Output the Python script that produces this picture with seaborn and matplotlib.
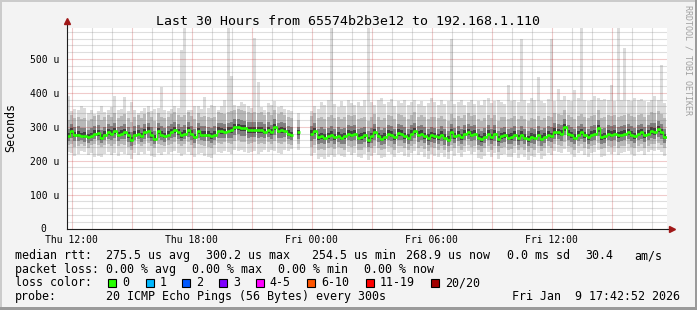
import numpy as np
import pandas as pd
import matplotlib
matplotlib.use("Agg")
import matplotlib.pyplot as plt
import matplotlib.dates as mdates
from matplotlib.patches import Rectangle
from matplotlib.ticker import FixedLocator, FuncFormatter
import seaborn as sns

nan = np.nan

# ---------------- data (microseconds, one value per 10-minute step) ----------------
median_us = [
    272, 287, 277, 277, 274, 274, 270, 272, 280, 282,
    268, 277, 283, 280, 287, 277, 280, 283, 275, 260,
    277, 280, 273, 285, 288, 275, 265, 286, 277, 273,
    277, 285, 290, 283, 275, 280, 290, 280, 270, 287,
    277, 277, 277, 272, 277, 288, 288, 285, 288, 290,
    298, 300, 295, 295, 290, 290, 290, 290, 290, 285,
    290, 283, 300, 288, 290, 288, 280, 277, nan, 283,
    nan, nan, nan, 280, 288, 270, 272, 268, 272, 277,
    270, 273, 268, 272, 280, 277, 280, 268, 270, 275,
    260, 272, 283, 273, 265, 270, 280, 277, 270, 282,
    280, 273, 268, 280, 287, 277, 280, 273, 268, 275,
    272, 270, 277, 268, 262, 283, 272, 277, 270, 280,
    284, 277, 280, 268, 263, 270, 280, 270, 280, 263,
    272, 275, 268, 270, 277, 267, 277, 268, 263, 270,
    268, 277, 265, 270, 277, 273, 285, 283, 280, 298,
    280, 275, 268, 277, 283, 275, 270, 277, 280, 295,
    270, 272, 280, 277, 280, 275, 277, 280, 283, 277,
    272, 280, 283, 275, 280, 288, 285, 292, 283, 270]

min_us = [
    225, 222, 215, 220, 228, 225, 218, 222, 210, 215,
    212, 220, 225, 218, 222, 215, 225, 220, 216, 205,
    222, 218, 225, 220, 228, 215, 210, 222, 218, 225,
    220, 225, 228, 222, 215, 220, 226, 218, 210, 220,
    222, 215, 212, 208, 220, 225, 222, 228, 225, 220,
    230, 228, 232, 226, 222, 225, 228, 220, 225, 230,
    226, 232, 228, 224, 220, 230, 228, 235, nan, 232,
    nan, nan, nan, 215, 222, 206, 210, 205, 212, 218,
    212, 220, 215, 210, 225, 218, 222, 210, 208, 220,
    203, 215, 222, 218, 208, 212, 225, 220, 210, 222,
    225, 215, 210, 222, 228, 218, 225, 212, 206, 220,
    215, 212, 222, 210, 205, 228, 215, 222, 212, 225,
    228, 220, 225, 208, 205, 215, 225, 210, 222, 204,
    218, 220, 210, 212, 222, 208, 220, 212, 203, 215,
    210, 222, 206, 215, 222, 218, 228, 225, 222, 235,
    225, 220, 210, 222, 228, 218, 212, 222, 225, 232,
    212, 215, 225, 220, 225, 218, 222, 225, 228, 220,
    215, 225, 228, 218, 225, 232, 228, 230, 226, 215]

max_us = [
    390, 345, 352, 348, 360, 356, 340, 350, 338, 345,
    360, 342, 350, 358, 390, 348, 352, 389, 345, 373,
    350, 340, 345, 356, 362, 345, 352, 355, 418, 350,
    345, 352, 360, 355, 526, 595, 350, 348, 360, 362,
    352, 389, 355, 365, 360, 350, 362, 380, 595, 450,
    365, 360, 372, 368, 360, 355, 561, 432, 358, 350,
    370, 365, 375, 358, 360, 352, 348, 345, nan, 340,
    nan, nan, nan, 345, 360, 352, 372, 365, 378, 595,
    368, 358, 375, 362, 380, 370, 365, 372, 360, 378,
    595, 372, 365, 378, 385, 368, 372, 383, 362, 375,
    370, 378, 365, 372, 380, 368, 375, 362, 370, 385,
    372, 365, 378, 368, 375, 560, 368, 372, 378, 365,
    372, 380, 368, 375, 365, 378, 385, 370, 375, 380,
    372, 368, 422, 375, 380, 372, 560, 378, 370, 385,
    378, 447, 375, 370, 382, 560, 375, 412, 380, 392,
    378, 375, 407, 385, 595, 380, 375, 378, 392, 385,
    378, 382, 380, 422, 375, 595, 378, 531, 380, 375,
    385, 378, 382, 375, 373, 380, 392, 378, 482, 370]

p15_us = [
    245, 250, 240, 244, 248, 242, 238, 245, 250, 246,
    240, 246, 250, 244, 248, 242, 250, 246, 240, 232,
    246, 250, 242, 248, 252, 244, 236, 250, 245, 242,
    246, 250, 255, 248, 242, 248, 255, 246, 238, 250,
    246, 242, 240, 236, 245, 252, 250, 254, 252, 250,
    258, 260, 256, 254, 250, 252, 254, 248, 252, 250,
    254, 250, 258, 252, 250, 254, 248, 246, nan, 250,
    nan, nan, nan, 240, 246, 230, 234, 232, 236, 240,
    234, 240, 236, 232, 244, 240, 244, 232, 230, 240,
    225, 236, 244, 238, 230, 234, 244, 240, 232, 244,
    244, 236, 232, 242, 248, 238, 244, 234, 228, 240,
    236, 232, 242, 230, 226, 246, 236, 242, 232, 244,
    246, 240, 244, 230, 226, 236, 244, 232, 242, 226,
    238, 240, 232, 234, 242, 230, 240, 232, 226, 236,
    232, 242, 228, 236, 242, 238, 248, 246, 242, 255,
    244, 240, 232, 242, 248, 238, 234, 242, 246, 252,
    234, 236, 244, 240, 244, 238, 242, 244, 248, 240,
    236, 244, 248, 238, 244, 250, 248, 252, 246, 236]

p85_us = [
    320, 335, 325, 330, 322, 326, 318, 324, 332, 335,
    320, 328, 336, 330, 340, 326, 332, 338, 326, 315,
    330, 334, 325, 338, 342, 328, 318, 340, 330, 326,
    330, 338, 344, 336, 330, 334, 344, 332, 322, 340,
    330, 332, 328, 325, 330, 342, 340, 338, 342, 345,
    350, 352, 348, 346, 342, 340, 344, 340, 342, 336,
    342, 334, 350, 338, 342, 336, 330, 326, nan, 320,
    nan, nan, nan, 332, 340, 325, 330, 322, 328, 334,
    325, 330, 322, 328, 336, 332, 335, 322, 326, 330,
    318, 328, 338, 328, 320, 326, 336, 332, 324, 338,
    335, 328, 322, 336, 342, 330, 335, 328, 322, 330,
    328, 325, 332, 322, 318, 338, 326, 332, 325, 335,
    340, 332, 335, 322, 318, 326, 335, 325, 335, 318,
    328, 330, 322, 326, 332, 322, 332, 322, 318, 326,
    322, 332, 320, 326, 332, 328, 340, 338, 335, 350,
    335, 330, 322, 332, 338, 330, 325, 332, 335, 348,
    325, 328, 335, 332, 335, 330, 332, 335, 338, 332,
    328, 335, 338, 330, 335, 342, 340, 346, 338, 325]

first_step = "2026-01-08 11:50"
step = "10min"
view_start = "2026-01-08 11:45"
view_end = "2026-01-09 17:45"
y_max_us = 591

title = "Last 30 Hours from 65574b2b3e12 to 192.168.1.110"
rtt_label = "median rtt:"
rtt_items = ["275.5 us avg", "300.2 us max", "254.5 us min", "268.9 us now",
             "0.0 ms sd", "30.4", "am/s"]
loss_label = "packet loss:"
loss_items = ["0.00 % avg", "0.00 % max", "0.00 % min", "0.00 % now"]
color_label = "loss color:"
loss_names = ["0", "1", "2", "3", "4-5", "6-10", "11-19", "20/20"]
loss_colors = ["#26ff00", "#00b8ff", "#0059ff", "#7e00ff", "#ff00ff",
               "#ff5500", "#ff0000", "#a10000"]
probe_label = "probe:"
probe_text = "20 ICMP Echo Pings (56 Bytes) every 300s"
stamp_text = "Fri Jan  9 17:42:52 2026"

# ---------------- style ----------------
sns.set_theme(style="white")
plt.rcParams["font.family"] = ["DejaVu Sans Mono", "DejaVu Sans"]

W, H = 697, 310
BACK = "#f3f3f3"
AXIS_C = "#1e1e1e"
ARROW_C = "#a01818"


def fx(px):
    return px / W


def fy(py):
    return 1 - py / H


fig = plt.figure(figsize=(W / 100, H / 100), dpi=100, facecolor=BACK)

# frame shading around the image
for (x0, y0, w0, h0, c) in [(0, 0, W, 2, "#cbcbcb"), (0, 0, 2, H, "#cbcbcb"),
                            (0, H - 3, W, 3, "#9a9a9a"), (W - 2, 0, 2, H, "#9a9a9a")]:
    fig.patches.append(Rectangle((fx(x0), fy(y0 + h0)), w0 / W, h0 / H,
                                 transform=fig.transFigure, facecolor=c,
                                 edgecolor="none", zorder=0))

AX_L, AX_R, AX_T, AX_B = 66.5, 666.5, 28.0, 228.5
ax = fig.add_axes([fx(AX_L), fy(AX_B), (AX_R - AX_L) / W, (AX_B - AX_T) / H])
ax.set_facecolor("white")

times = pd.date_range(first_step, periods=len(median_us), freq=step)
x = mdates.date2num(times)
w = x[1] - x[0]

med = np.array(median_us, float)
lo = np.array(min_us, float)
hi = np.array(max_us, float)
q1 = np.array(p15_us, float)
q9 = np.array(p85_us, float)

# smoke layers: outer (all pings) light, inner darker
layers = [
    (lo, hi, "#dcdcdc"),
    (q1, q9, "#b8b8b8"),
    (med - (med - q1) * 0.55, med + (q9 - med) * 0.45, "#808080"),
    (med - (med - q1) * 0.22, med + (q9 - med) * 0.18, "#404040"),
]
for b, t, c in layers:
    ax.bar(x, t - b, bottom=b, width=w, color=c, linewidth=0,
           align="center", zorder=1)

# median rtt line (coloured by loss = 0)
seg = np.cumsum(np.isnan(med))
df = pd.DataFrame({"t": x, "median": med, "seg": seg}).dropna()
sns.lineplot(data=df, x="t", y="median", units="seg", estimator=None,
             drawstyle="steps-mid", color=loss_colors[0], linewidth=1.0,
             ax=ax, zorder=3, legend=False)
ax.hlines(df["median"], df["t"] - w / 2, df["t"] + w / 2,
          color=loss_colors[0], linewidth=1.9, zorder=3)

ax.set_xlabel("")
ax.set_ylabel("")
ax.set_xlim(mdates.date2num(pd.Timestamp(view_start)),
            mdates.date2num(pd.Timestamp(view_end)))
ax.set_ylim(0, y_max_us)

# axes ticks & grid
ax.xaxis.set_major_locator(mdates.HourLocator(byhour=range(0, 24, 3)))
ax.xaxis.set_minor_locator(mdates.HourLocator())


def xfmt(v, pos):
    d = mdates.num2date(v)
    return d.strftime("%a %H:%M") if d.hour % 6 == 0 else ""


ax.xaxis.set_major_formatter(FuncFormatter(xfmt))
ax.yaxis.set_major_locator(FixedLocator([0, 100, 200, 300, 400, 500]))
ax.yaxis.set_minor_locator(FixedLocator(np.arange(20, 591, 20)))
ax.yaxis.set_major_formatter(FuncFormatter(
    lambda v, p: "0  " if v == 0 else f"{int(v)} u"))

ax.set_axisbelow(False)
ax.grid(which="minor", color="#707070", alpha=0.45, linewidth=0.8,
        linestyle=(0, (0.9, 0.9)))
ax.grid(which="major", color="#c01e1e", alpha=0.45, linewidth=0.8,
        linestyle=(0, (0.9, 0.9)))

ax.tick_params(axis="both", which="major", direction="out", length=2.2,
               width=0.72, color=AXIS_C, labelsize=7, labelcolor="black")
ax.tick_params(axis="y", which="major", pad=3.2)
ax.tick_params(axis="x", which="major", pad=2.6)
ax.tick_params(axis="y", which="minor", direction="out", length=1.2,
               width=0.72, color=AXIS_C)
ax.tick_params(axis="x", which="minor", length=0)

for s in ["top", "right"]:
    ax.spines[s].set_visible(False)
for s in ["left", "bottom"]:
    ax.spines[s].set_color(AXIS_C)
    ax.spines[s].set_linewidth(0.8)
    ax.spines[s].set_zorder(4)

# axis extensions and arrows
ext_y = 4.0 / (AX_B - AX_T)
ax.plot([0, 0], [1, 1 + ext_y], transform=ax.transAxes, color=AXIS_C,
        lw=0.8, clip_on=False, zorder=4)
ax.plot([0], [1 + 7.0 / (AX_B - AX_T)], marker="^", ms=4.5, color=ARROW_C,
        transform=ax.transAxes, clip_on=False, zorder=5, mec=ARROW_C)
ax.plot([1, 1 + 2.0 / (AX_R - AX_L)], [0, 0], transform=ax.transAxes,
        color=AXIS_C, lw=0.8, clip_on=False, zorder=4)
ax.plot([1 + 5.0 / (AX_R - AX_L)], [0], marker=">", ms=4.5, color=ARROW_C,
        transform=ax.transAxes, clip_on=False, zorder=5, mec=ARROW_C)

# ---------------- texts ----------------
fig.text(fx(348.5), fy(25), title, ha="center", va="baseline",
         fontsize=9.5, color="black")
fig.text(fx(10.5), fy(128), "Seconds", ha="center", va="center",
         rotation=90, fontsize=8.4, color="black")
fig.text(fx(688), fy(5), "RRDTOOL / TOBI OETIKER", ha="center", va="top",
         rotation=270, fontsize=6, color="#a0a0a0")

FS = 8.4


def T(xp, yp, s):
    fig.text(fx(xp), fy(yp), s, ha="left", va="baseline", fontsize=FS,
             color="black")


row_y = [259.3, 272.8, 286.3, 299.8]
T(15, row_y[0], rtt_label)
for xp, s in zip([106.3, 206.3, 311.7, 406.3, 506.7, 585, 634.7], rtt_items):
    T(xp, row_y[0], s)
T(15, row_y[1], loss_label)
for xp, s in zip([106.3, 192.3, 278.3, 364], loss_items):
    T(xp, row_y[1], s)
T(15, row_y[2], color_label)
sq_x = [108.3, 145.7, 182.3, 219, 255.7, 307.3, 365.7, 431]
for xp, name, c in zip(sq_x, loss_names, loss_colors):
    fig.patches.append(Rectangle((fx(xp), fy(286.5)), 8 / W, 8 / H,
                                 transform=fig.transFigure, facecolor=c,
                                 edgecolor="black", linewidth=0.8, zorder=2))
    T(xp + 14, row_y[2], name)
T(15, row_y[3], probe_label)
T(106.3, row_y[3], probe_text)
T(512.3, row_y[3], stamp_text)

fig.savefig("out.png", dpi=100, facecolor=BACK)
